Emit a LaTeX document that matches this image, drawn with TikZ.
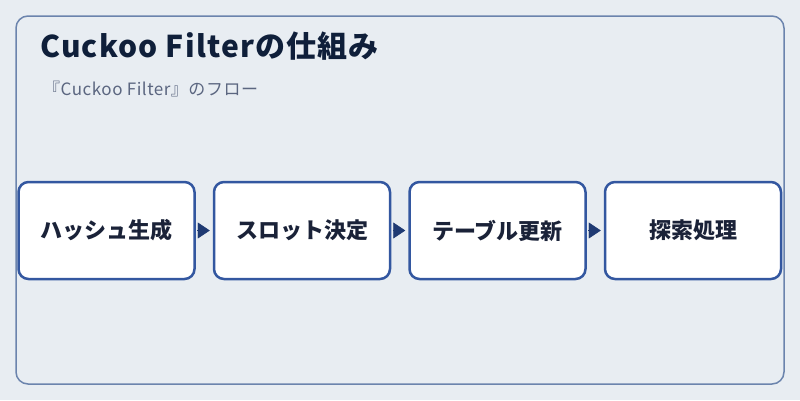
\documentclass[tikz,border=0pt]{standalone}
\usepackage{fontspec}
\setmainfont{Noto Sans CJK JP}
\newfontfamily\titlefont[LetterSpace=4]{Noto Sans CJK JP}
\newfontfamily\subfont[LetterSpace=3]{Noto Sans CJK JP}
\usepackage{tikz}
\usetikzlibrary{positioning,arrows.meta}
\definecolor{bgcol}{HTML}{E8EDF2}
\definecolor{framecol}{HTML}{6B84AD}
\definecolor{boxcol}{HTML}{3357A0}
\definecolor{arrowcol}{HTML}{1F3A73}
\definecolor{titlecol}{HTML}{0F1F3A}
\definecolor{subcol}{HTML}{5B6680}
\definecolor{textcol}{HTML}{1A2238}

\begin{document}
\begin{tikzpicture}[x=1pt, y=-1pt, >={Triangle[length=12pt,width=16pt]},
    stepbox/.style={draw=boxcol, line width=2.5pt, fill=white, rounded corners=10pt,
        minimum width=176pt, minimum height=97pt, font=\fontsize{22}{26}\selectfont\bfseries,
        text=textcol},
    flow/.style={->, arrowcol, shorten <=1.5pt, shorten >=3pt},
    node distance=17pt]
    % Background and frame
    \fill[bgcol] (0,0) rectangle (800,400);
    \useasboundingbox (0,0) rectangle (800,400);
    \draw[framecol, line width=1.5pt, rounded corners=12pt] (16,16) rectangle (784,384);

    % Title
    \node[anchor=base west, inner sep=0pt, text=titlecol, font=\titlefont\fontsize{30}{36}\selectfont\bfseries]
        (title) at (40,57) {Cuckoo Filterの仕組み};
    \node[anchor=base west, inner sep=0pt, text=subcol, font=\subfont\fontsize{17}{21}\selectfont]
        (subtitle) at (43,95) {『Cuckoo Filter』のフロー};

    % Steps
    \node[stepbox] (hash) at (106.5,230.5) {ハッシュ生成};
    \node[stepbox, right=of hash] (slot) {スロット決定};
    \node[stepbox, right=of slot] (table) {テーブル更新};
    \node[stepbox, right=of table] (search) {探索処理};

    % Arrows
    \draw[flow] (hash) -- (slot);
    \draw[flow] (slot) -- (table);
    \draw[flow] (table) -- (search);
\end{tikzpicture}
\end{document}
